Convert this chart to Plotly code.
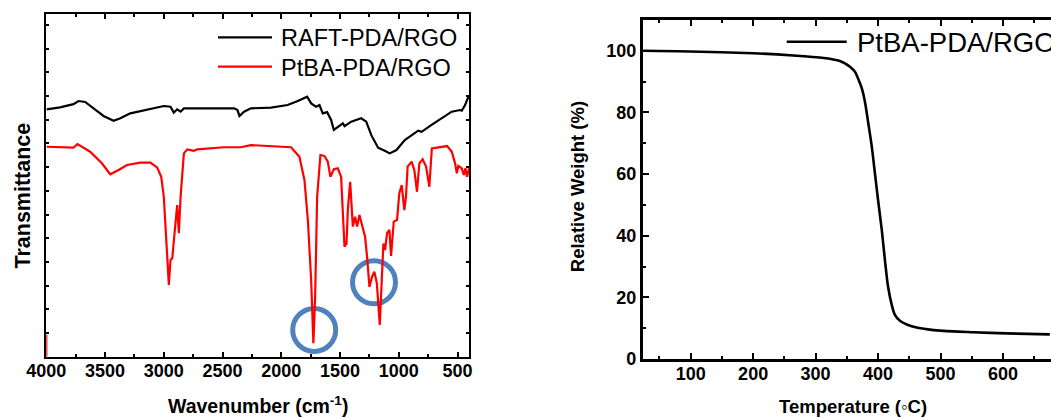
import plotly.graph_objects as go

# ---------------- FTIR spectra (wavenumber in cm^-1, transmittance in a.u.) ----------------
raft_wn = [3997, 3883, 3769, 3726, 3669, 3598, 3513, 3427, 3370, 3285, 3142, 3000, 2943,
           2915, 2886, 2857, 2829, 2629, 2401, 2373, 2356, 2317, 2259, 2088, 1946, 1860,
           1780, 1746, 1704, 1675, 1647, 1610, 1576, 1553, 1513, 1476, 1462, 1405, 1320,
           1277, 1234, 1176, 1120, 1077, 1020, 949, 835, 806, 721, 607, 550, 479, 464,
           436, 413, 400]
raft_t = [10.44, 10.52, 10.66, 10.79, 10.75, 10.48, 10.16, 9.96, 10.06, 10.27, 10.44, 10.58,
          10.55, 10.30, 10.44, 10.34, 10.48, 10.49, 10.48, 10.41, 10.16, 10.34, 10.48, 10.51,
          10.62, 10.79, 10.97, 10.69, 10.55, 10.62, 10.27, 10.32, 9.99, 9.57, 9.70, 9.85,
          9.73, 9.92, 10.06, 9.92, 9.35, 8.82, 8.69, 8.58, 8.72, 9.14, 9.54, 9.49, 9.78,
          10.13, 10.34, 10.41, 10.38, 10.62, 10.90, 10.97]

ptba_wn = [4000, 4000, None,
           3997, 3883, 3769, 3735, 3698, 3627, 3527, 3456, 3385, 3313, 3199, 3114, 3057,
           3022, 3000, 2977, 2957, 2943, 2928, 2906, 2886, 2872, 2857, 2829, 2800, 2744,
           2715, 2488, 2344, 2259, 2060, 1917, 1846, 1803, 1774, 1746, 1727, 1712, 1695,
           1667, 1633, 1604, 1582, 1553, 1519, 1491, 1476, 1462, 1445, 1434, 1414, 1391,
           1372, 1355, 1335, 1306, 1287, 1270, 1250, 1227, 1208, 1187, 1162, 1145, 1131,
           1117, 1100, 1080, 1066, 1043, 1015, 996, 975, 953, 939, 925, 891, 868, 845,
           825, 797, 768, 740, 719, 640, 589, 549, 521, 506, 493, 464, 447, 433, 419, 402]
ptba_t = [0.0, 0.93, None,
          8.86, 8.84, 8.82, 8.97, 8.86, 8.65, 8.16, 7.70, 7.88, 8.09, 8.19, 8.19, 7.99,
          7.59, 6.75, 4.92, 3.03, 4.08, 4.15, 5.35, 6.40, 5.21, 6.75, 8.58, 8.75, 8.69,
          8.75, 8.84, 8.84, 8.93, 8.89, 8.84, 8.44, 7.46, 5.77, 3.24, 0.57, 2.53, 6.75,
          8.51, 8.47, 8.23, 7.59, 7.91, 7.95, 7.59, 6.05, 4.64, 4.78, 6.19, 7.38, 5.49,
          5.91, 5.49, 5.98, 5.49, 5.06, 4.22, 2.95, 3.38, 3.59, 3.10, 1.34, 3.24, 4.78,
          4.50, 5.21, 5.35, 4.25, 5.70, 5.77, 6.89, 7.24, 6.19, 6.75, 8.02, 8.23, 7.88,
          6.96, 8.16, 8.33, 8.02, 7.17, 8.79, 8.86, 8.89, 8.65, 8.16, 7.74, 8.05, 7.95,
          7.67, 7.95, 7.59, 7.95]

# highlighted ester bands (C=O stretch and C-O stretch)
mark_wn = [1720, 1211]
mark_t = [1.13, 3.14]

# ---------------- TGA curve ----------------
tga_temp = [24, 99, 200, 264, 302, 328, 339, 347, 355, 363, 368, 374, 379, 384, 390, 395,
            400, 406, 411, 416, 422, 427, 435, 446, 460, 480, 499, 552, 606, 675]
tga_weight = [100.0, 99.8, 99.2, 98.5, 97.9, 97.2, 96.7, 95.9, 94.8, 93.2, 91.0, 87.8, 83.5,
              77.0, 68.9, 60.2, 51.6, 41.8, 32.1, 23.5, 17.5, 14.3, 12.4, 11.2, 10.3, 9.6,
              9.2, 8.7, 8.3, 8.0]

wn_ticks = [4000, 3500, 3000, 2500, 2000, 1500, 1000, 500]
temp_ticks = [100, 200, 300, 400, 500, 600]
weight_ticks = [0, 20, 40, 60, 80, 100]

W, H = 1051, 418
FONT = "Liberation Sans, Arial, Helvetica, sans-serif"


def fx(x):
    return x / W


def fy(y):
    return 1 - y / H


fig = go.Figure()

fig.add_trace(go.Scatter(x=raft_wn, y=raft_t, mode="lines", name="RAFT-PDA/RGO",
                         line=dict(color="black", width=2.2), xaxis="x", yaxis="y"))
fig.add_trace(go.Scatter(x=ptba_wn, y=ptba_t, mode="lines", name="PtBA-PDA/RGO",
                         line=dict(color="#ff0000", width=2.2), xaxis="x", yaxis="y"))
fig.add_trace(go.Scatter(x=tga_temp, y=tga_weight, mode="lines", name="PtBA-PDA/RGO",
                         line=dict(color="black", width=2.6, shape="spline", smoothing=0.8),
                         xaxis="x2", yaxis="y2"))

tick_font = dict(family=FONT, size=18, color="black", weight="bold")

common = dict(showgrid=False, zeroline=False, showline=True, linecolor="black",
              ticks="inside", tickcolor="black", tickfont=tick_font, automargin=False)

fig.update_layout(
    width=W, height=H,
    margin=dict(l=0, r=0, t=0, b=0, pad=0, autoexpand=False),
    paper_bgcolor="white", plot_bgcolor="white",
    showlegend=False,
    font=dict(family=FONT, color="black"),
    xaxis=dict(domain=[fx(46.3), fx(469.3)], range=[4000, 400], anchor="y",
               tickvals=wn_ticks, ticklen=5, tickwidth=1.5, linewidth=2,
               mirror="allticks", layer="below traces", ticklabelstandoff=-3,
               minor=dict(ticks="inside", dtick=250, tick0=0, ticklen=3,
                          tickwidth=1.5, tickcolor="black"),
               **common),
    yaxis=dict(domain=[fy(356.7), fy(14.3)], range=[0, 14.45], anchor="x",
               dtick=1, tick0=0, ticklen=3, tickwidth=1.5, linewidth=2,
               showticklabels=False, mirror="allticks", layer="below traces",
               **common),
    xaxis2=dict(domain=[fx(642.7), 1.0], range=[23.2, 676.9], anchor="y2",
                tickvals=temp_ticks, ticklen=6, tickwidth=2, linewidth=2.6,
                mirror="allticks", ticklabelstandoff=-3,
                minor=dict(ticks="inside", dtick=100, tick0=50, ticklen=3,
                           tickwidth=2, tickcolor="black"),
                **common),
    yaxis2=dict(domain=[fy(359), fy(20)], range=[0, 110], anchor="x2",
                tickvals=weight_ticks, ticklen=6, tickwidth=2, linewidth=2.6,
                minor=dict(ticks="inside", dtick=20, tick0=10, ticklen=3,
                           tickwidth=2, tickcolor="black"),
                **common),
)

# blue rings around the ester bands
for wn, t in zip(mark_wn, mark_t):
    fig.add_shape(type="circle", xref="x", yref="y", xsizemode="pixel", ysizemode="pixel",
                  xanchor=wn, yanchor=t, x0=-21.5, x1=21.5, y0=-21.5, y1=21.5,
                  line=dict(color="#4f81bd", width=5), layer="below")

# legend keys
legend_rows = [
    (218, 272, 37.3, "black", 2.2, 279, "RAFT-PDA/RGO", 23.5),
    (218, 272, 66.7, "#ff0000", 2.2, 279, "PtBA-PDA/RGO", 23.5),
    (786.7, 846.7, 41.7, "black", 2.6, 855, "PtBA-PDA/RGO", 27.5),
]
for x0, x1, yy, col, lw, tx, label, size in legend_rows:
    fig.add_shape(type="line", xref="paper", yref="paper", x0=fx(x0), x1=fx(x1),
                  y0=fy(yy), y1=fy(yy), line=dict(color=col, width=lw))
    fig.add_annotation(xref="paper", yref="paper", x=fx(tx), y=fy(yy + 1),
                       xanchor="left", yanchor="middle", showarrow=False, text=label,
                       font=dict(family=FONT, size=size, color="black"))

# axis titles
title_font = dict(family=FONT, size=19.5, color="black", weight="bold")
title_font_y = dict(family=FONT, size=21.5, color="black", weight="bold")
title_font2 = dict(family=FONT, size=18.5, color="black", weight="bold")
fig.add_annotation(xref="paper", yref="paper", x=fx(257.8), y=fy(405),
                   xanchor="center", yanchor="middle", showarrow=False,
                   text="Wavenumber (cm<sup>-1</sup>)", font=title_font)
fig.add_annotation(xref="paper", yref="paper", x=fx(22.5), y=fy(196),
                   xanchor="center", yanchor="middle", showarrow=False, textangle=-90,
                   text="Transmittance", font=title_font_y)
fig.add_annotation(xref="paper", yref="paper", x=fx(852.5), y=fy(406),
                   xanchor="center", yanchor="middle", showarrow=False,
                   text="Temperature (\u25e6C)", font=title_font2)
fig.add_annotation(xref="paper", yref="paper", x=fx(577.5), y=fy(186.7),
                   xanchor="center", yanchor="middle", showarrow=False, textangle=-90,
                   text="Relative Weight (%)", font=title_font2)

fig.write_html("out.html")
